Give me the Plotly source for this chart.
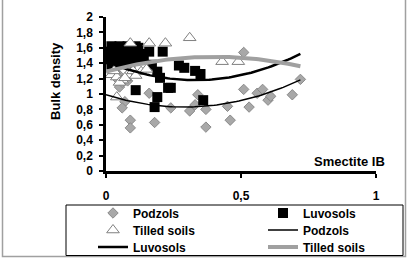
import numpy as np
import plotly.graph_objects as go

# ---- data ----
podzols_x = [0.05, 0.07, 0.06, 0.09, 0.09, 0.16, 0.18, 0.24, 0.31, 0.33, 0.34, 0.37, 0.37,
             0.45, 0.46, 0.51, 0.51, 0.53, 0.56, 0.58, 0.60, 0.61, 0.69, 0.72,
             0.04, 0.06, 0.08, 0.05]
podzols_y = [1.09, 0.90, 0.82, 0.66, 0.56, 1.01, 0.63, 0.82, 0.78, 0.86, 0.99, 0.80, 0.57,
             0.84, 0.66, 1.54, 1.06, 0.83, 1.01, 1.06, 0.92, 0.97, 0.99, 1.19,
             1.20, 1.15, 1.17, 1.24]

luvosols_x = [0.01, 0.01, 0.02, 0.03, 0.04, 0.05, 0.06, 0.07, 0.08, 0.09, 0.10, 0.11, 0.12,
              0.13, 0.03, 0.06, 0.09, 0.12, 0.14, 0.16, 0.21, 0.17, 0.19, 0.20, 0.23, 0.24,
              0.11, 0.19, 0.18, 0.27, 0.29, 0.33, 0.35, 0.36, 0.02, 0.05, 0.08, 0.11]
luvosols_y = [1.45, 1.55, 1.38, 1.50, 1.58, 1.45, 1.55, 1.60, 1.50, 1.58, 1.48, 1.55, 1.60,
              1.52, 1.35, 1.40, 1.40, 1.44, 1.45, 1.55, 1.55, 1.38, 1.29, 1.21, 1.08, 1.08,
              1.05, 0.96, 0.83, 1.37, 1.34, 1.30, 1.26, 0.92, 1.62, 1.62, 1.62, 1.62]

tilled_x = [0.09, 0.16, 0.22, 0.31, 0.43, 0.49, 0.04, 0.02, 0.04, 0.06, 0.08, 0.10, 0.13,
            0.15, 0.05, 0.03, 0.07, 0.11]
tilled_y = [1.66, 1.66, 1.66, 1.73, 1.42, 1.42, 0.96, 1.25, 1.22, 1.18, 1.25, 1.30, 1.29,
            1.32, 1.15, 1.30, 1.21, 1.24]

# polynomial trendline coefficients (c0 + c1*x + c2*x^2)
podzols_trend = [0.99, -1.10, 1.90]
luvosols_trend = [1.424, -1.478, 2.24]
tilled_trend = [1.29, 0.965, -1.205]
trend_range = [0.0, 0.72]

x_ticks = [0, 0.5, 1]
y_ticks = [0, 0.2, 0.4, 0.6, 0.8, 1, 1.2, 1.4, 1.6, 1.8, 2]

# ---- geometry helpers ----
W, H = 408, 258
L, R, T, B = 106, 376, 17, 171


def px(xp):
    return (xp - L) / (R - L)


def py(yp):
    return (B - yp) / (B - T)


def cx(xp):
    return xp / W


def cy(yp):
    return 1 - yp / H


def trend(c):
    xs = np.linspace(trend_range[0], trend_range[1], 80)
    return xs, c[0] + c[1] * xs + c[2] * xs ** 2


FONT = "Liberation Sans"
LEGFONT = dict(family=FONT, size=12, weight="bold", color="black")

fig = go.Figure()
fig.add_trace(go.Scatter(x=podzols_x, y=podzols_y, mode="markers", name="Podzols",
                         legend="legend",
                         marker=dict(symbol="diamond", size=8, color="#a8a8a8",
                                     line=dict(color="#8a8a8a", width=1))))
fig.add_trace(go.Scatter(x=luvosols_x, y=luvosols_y, mode="markers", name="Luvosols",
                         legend="legend2",
                         marker=dict(symbol="square", size=10, color="black",
                                     line=dict(color="black", width=0))))
fig.add_trace(go.Scatter(x=tilled_x, y=tilled_y, mode="markers", name="Tilled soils",
                         legend="legend3",
                         marker=dict(symbol="triangle-up", size=11, color="white",
                                     line=dict(color="#808080", width=1))))
xs, ys = trend(podzols_trend)
fig.add_trace(go.Scatter(x=xs, y=ys, mode="lines", name="Podzols", legend="legend4",
                         line=dict(color="black", width=1.5)))
xs, ys = trend(luvosols_trend)
fig.add_trace(go.Scatter(x=xs, y=ys, mode="lines", name="Luvosols", legend="legend5",
                         line=dict(color="black", width=2.5)))
xs, ys = trend(tilled_trend)
fig.add_trace(go.Scatter(x=xs, y=ys, mode="lines", name="Tilled soils", legend="legend6",
                         line=dict(color="#a0a0a0", width=4)))


def leg(xp, yp):
    return dict(orientation="v", xref="container", yref="container",
                x=cx(xp), y=cy(yp), xanchor="left", yanchor="middle", itemwidth=30,
                bgcolor="rgba(0,0,0,0)", borderwidth=0, font=LEGFONT)


C1, C2 = 93, 263
fig.update_layout(
    width=W, height=H,
    margin=dict(l=L, r=W - R, t=T, b=H - B, pad=0, autoexpand=False),
    paper_bgcolor="white", plot_bgcolor="white",
    separators=", ",
    font=dict(family=FONT, size=12, color="black"),
    showlegend=True,
    legend=leg(C1, 213), legend2=leg(C2, 213),
    legend3=leg(C1, 230), legend4=leg(C2, 230),
    legend5=leg(C1, 247), legend6=leg(C2, 247),
    xaxis=dict(range=[0, 1], tickvals=x_ticks, showgrid=False, zeroline=False,
               showline=True, linecolor="black", linewidth=2.5,
               ticks="outside", ticklen=4, tickwidth=2, tickcolor="black",
               ticklabelstandoff=8,
               tickfont=dict(family=FONT, size=12, weight="bold")),
    yaxis=dict(range=[0, 2], tickvals=y_ticks, showgrid=False, zeroline=False,
               showline=True, linecolor="black", linewidth=2.5,
               ticks="outside", ticklen=4, tickwidth=2, tickcolor="black",
               ticklabelstandoff=4,
               tickfont=dict(family=FONT, size=12, weight="bold")),
    annotations=[
        dict(text="Bulk density", xref="paper", yref="paper", x=px(55), y=py(81),
             textangle=-90, showarrow=False, xanchor="center", yanchor="middle",
             font=dict(family=FONT, size=13, weight="bold")),
        dict(text="Smectite IB", xref="paper", yref="paper", x=px(387), y=py(161),
             showarrow=False, xanchor="right", yanchor="middle",
             font=dict(family=FONT, size=13, weight="bold")),
    ],
    shapes=[
        dict(type="rect", xref="paper", yref="paper", x0=px(2.5), x1=px(405.5),
             y0=py(256.5), y1=py(-1), line=dict(color="#a0a0a0", width=1.5)),
        dict(type="rect", xref="paper", yref="paper", x0=px(66), x1=px(403),
             y0=py(255.5), y1=py(205), line=dict(color="black", width=1)),
    ],
)

fig.write_html("out.html")
